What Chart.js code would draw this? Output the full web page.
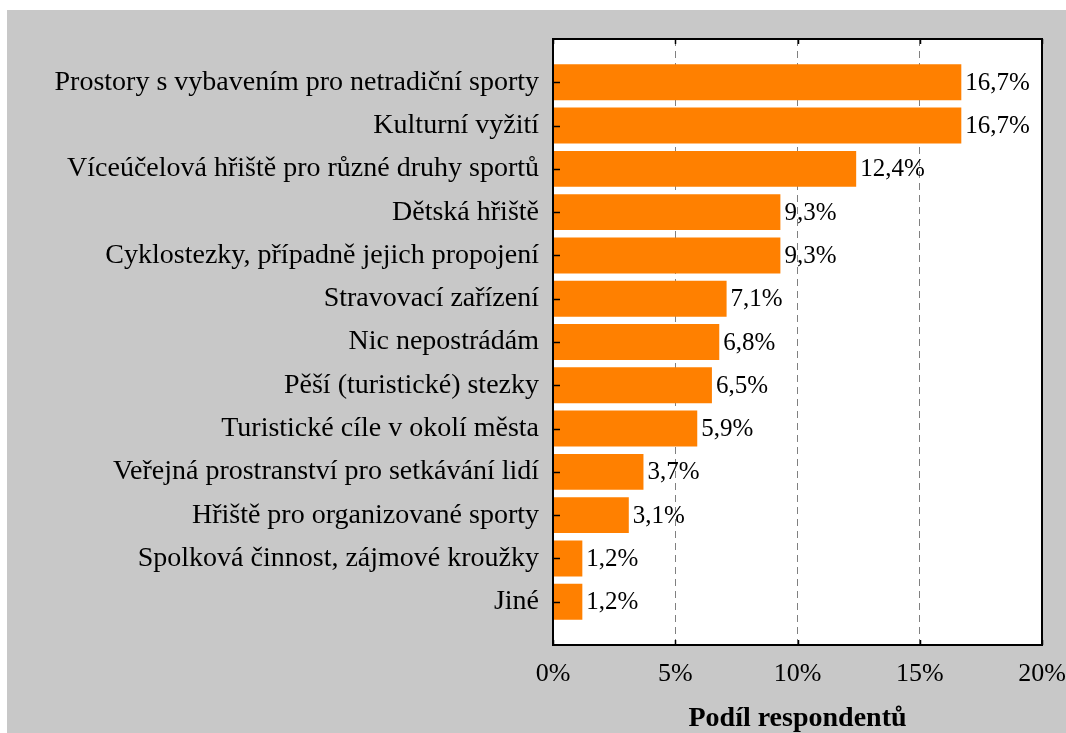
<!DOCTYPE html>
<html>
<head>
<meta charset="utf-8">
<script src="https://cdn.jsdelivr.net/npm/chart.js@4.4.1/dist/chart.umd.min.js"></script>
<style>
html,body{margin:0;padding:0;background:#fff;}
#wrap{width:1066px;height:733px;position:relative;}
canvas{display:block;}
</style>
</head>
<body>
<div id="wrap"><canvas id="c" width="1066" height="733"></canvas></div>
<script>
const categories = [
  "Prostory s vybavením pro netradiční sporty",
  "Kulturní vyžití",
  "Víceúčelová hřiště pro různé druhy sportů",
  "Dětská hřiště",
  "Cyklostezky, případně jejich propojení",
  "Stravovací zařízení",
  "Nic nepostrádám",
  "Pěší (turistické) stezky",
  "Turistické cíle v okolí města",
  "Veřejná prostranství pro setkávání lidí",
  "Hřiště pro organizované sporty",
  "Spolková činnost, zájmové kroužky",
  "Jiné"
];
const values = [16.7, 16.7, 12.4, 9.3, 9.3, 7.1, 6.8, 6.5, 5.9, 3.7, 3.1, 1.2, 1.2];
const xTicks = [0, 5, 10, 15, 20];
const axisTitle = "Podíl respondentů";

const FONT = "'Liberation Serif', 'Times New Roman', serif";
const fmt = v => v.toFixed(1).replace('.', ',') + '%';

const bgPlugin = {
  id: 'bg',
  beforeDraw(chart) {
    const ctx = chart.ctx;
    ctx.save();
    ctx.fillStyle = '#ffffff';
    ctx.fillRect(0, 0, chart.width, chart.height);
    ctx.fillStyle = '#c8c8c8';
    ctx.fillRect(7, 10, chart.width - 7, chart.height - 10);
    const a = chart.chartArea;
    ctx.fillStyle = '#ffffff';
    ctx.fillRect(a.left, a.top, a.right - a.left, a.bottom - a.top);
    ctx.restore();
  },
  afterDraw(chart) {
    const ctx = chart.ctx;
    const a = chart.chartArea;
    const xs = chart.scales.x, ys = chart.scales.y;
    ctx.save();
    ctx.strokeStyle = '#000';
    ctx.lineWidth = 1.5;
    xTicks.forEach(t => {
      const px = Math.round(xs.getPixelForValue(t)) + 0.5;
      ctx.beginPath();
      ctx.moveTo(px, a.bottom); ctx.lineTo(px, a.bottom - 5);
      ctx.moveTo(px, a.top); ctx.lineTo(px, a.top + 5);
      ctx.stroke();
    });
    categories.forEach((c, i) => {
      const py = Math.round(ys.getPixelForValue(i)) + 0.5;
      ctx.beginPath();
      ctx.moveTo(a.left, py); ctx.lineTo(a.left + 7, py);
      ctx.stroke();
    });
    ctx.lineWidth = 2;
    ctx.strokeStyle = '#000';
    ctx.strokeRect(a.left, a.top, a.right - a.left, a.bottom - a.top);
    ctx.fillStyle = '#000';
    ctx.font = "25px " + FONT;
    ctx.textAlign = 'left';
    ctx.textBaseline = 'middle';
    const meta = chart.getDatasetMeta(0);
    meta.data.forEach((bar, i) => {
      ctx.fillText(fmt(values[i]), bar.x + 4, bar.y + 1);
    });
    ctx.restore();
  }
};

new Chart(document.getElementById('c'), {
  type: 'bar',
  data: {
    datasets: [{
      data: values.map((v, i) => ({ x: v, y: i })),
      backgroundColor: '#ff8000',
      borderWidth: 0,
      barPercentage: 0.83,
      categoryPercentage: 1.0
    }]
  },
  options: {
    indexAxis: 'y',
    responsive: false,
    animation: false,
    devicePixelRatio: 1,
    layout: { autoPadding: false, padding: { top: 39, right: 24, left: 0, bottom: 0 } },
    plugins: { legend: { display: false }, tooltip: { enabled: false } },
    scales: {
      x: {
        type: 'linear',
        min: 0, max: 20,
        afterBuildTicks(scale) { scale.ticks = xTicks.map(v => ({ value: v })); },
        afterFit(scale) { scale.height = 88; scale.paddingLeft = 0; scale.paddingRight = 0; },
        ticks: {
          callback: v => v + '%',
          color: '#000',
          font: { family: FONT, size: 26 },
          padding: 14,
          maxRotation: 0
        },
        grid: {
          drawTicks: false,
          color: ctx => (ctx.tick && (ctx.tick.value === 0 || ctx.tick.value === 20)) ? 'rgba(0,0,0,0)' : '#808080',
          lineWidth: 1
        },
        border: { display: false, dash: [7, 5] },
        title: {
          display: true,
          text: axisTitle,
          color: '#000',
          font: { family: FONT, size: 28, weight: 'bold', lineHeight: 1.0 },
          padding: { top: 0, bottom: 0 }
        }
      },
      y: {
        type: 'linear',
        reverse: true,
        offset: false,
        min: -1, max: 13,
        afterBuildTicks(scale) { scale.ticks = categories.map((c, i) => ({ value: i })); },
        afterFit(scale) { scale.width = 553; scale.paddingTop = 0; scale.paddingBottom = 0; },
        ticks: {
          callback: v => categories[v] ?? '',
          color: '#000',
          font: { family: FONT, size: 28 },
          padding: 14,
          autoSkip: false
        },
        grid: { display: false, drawTicks: false },
        border: { display: false }
      }
    }
  },
  plugins: [bgPlugin]
});
</script>
</body>
</html>
